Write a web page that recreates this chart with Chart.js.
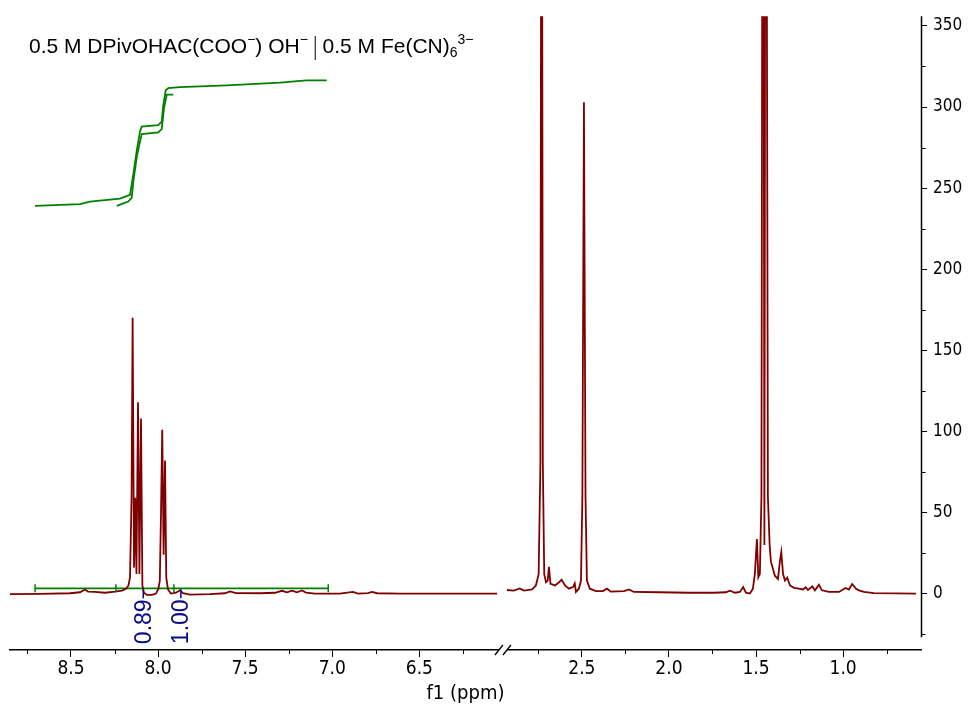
<!DOCTYPE html>
<html><head><meta charset="utf-8">
<script src="https://cdn.jsdelivr.net/npm/chart.js@4.4.0/dist/chart.umd.min.js"></script>
<style>html,body{margin:0;padding:0;background:#fff;overflow:hidden}</style>
</head><body>
<canvas id="c" width="976" height="706" style="display:block;width:976px;height:706px"></canvas>
<script>
// ---------- data (ppm, intensity) ----------
const leftSpectrum = [
 [8.85,-0.3],[8.678,-0.2],[8.506,0.2],[8.448,0.8],[8.420,2.5],[8.402,1.2],[8.362,1.0],[8.305,0.5],
 [8.247,1.2],[8.207,1.8],[8.184,3],[8.170,5],[8.161,10],[8.152,60],[8.146,170],[8.138,16],
 [8.131,59],[8.124,12],[8.115,118],[8.107,12],[8.098,108],[8.090,5],[8.081,0.5],[8.064,-0.8],
 [8.035,-0.8],[8.012,0],[7.998,3],[7.990,8],[7.983,50],[7.976,101],[7.968,24],[7.960,82],
 [7.953,10],[7.943,2.5],[7.926,0],[7.897,0.5],[7.874,2],[7.857,0.2],[7.817,-0.6],[7.702,-0.4],
 [7.616,0.2],[7.587,1.3],[7.553,0.3],[7.415,0.2],[7.329,0.5],[7.289,1.7],[7.260,0.8],[7.231,1.8],
 [7.203,0.8],[7.174,1.9],[7.151,0.6],[7.099,0],[6.956,0],[6.881,1.0],[6.852,0],[6.795,0.3],
 [6.772,1.0],[6.743,0.2],[6.611,0],[6.324,0],[6.054,0]
];
const rightSpectrum = [
 [2.930,2.2],[2.890,1.8],[2.857,3.2],[2.832,1.8],[2.786,2.5],[2.764,5],[2.748,12],[2.738,80],
 [2.731,650],[2.724,80],[2.716,12],[2.706,7],[2.696,8],[2.689,16.5],[2.680,6],[2.654,5],
 [2.631,7],[2.616,8.5],[2.597,5],[2.574,3],[2.551,4],[2.541,6.3],[2.534,1],[2.517,3],
 [2.505,8],[2.497,60],[2.488,303],[2.479,60],[2.471,8],[2.454,3],[2.419,1.5],[2.379,1.5],
 [2.356,3],[2.333,1.2],[2.258,1.5],[2.230,2.5],[2.201,1],[2.057,0.8],[1.885,0.5],[1.742,0.5],
 [1.673,0.8],[1.650,1.8],[1.621,0.5],[1.593,1],[1.574,4],[1.558,0.5],[1.535,0],[1.518,3],
 [1.507,12],[1.495,33.6],[1.487,10],[1.478,12],[1.469,60],[1.460,700],[1.452,30],[1.444,700],
 [1.432,60],[1.422,30],[1.415,20],[1.392,11],[1.374,9],[1.363,20],[1.355,25.6],[1.345,12],[1.334,8],
 [1.321,9.8],[1.305,5],[1.282,3.5],[1.254,3],[1.231,2.5],[1.215,3.9],[1.202,2.2],[1.177,4.4],
 [1.162,2],[1.139,5.5],[1.122,2],[1.082,1],[1.024,1],[0.986,3.4],[0.967,2.5],[0.948,5.9],
 [0.926,3],[0.909,2],[0.881,1],[0.823,0.3],[0.582,0]
];
const integralA = [
 [8.706,239.0],[8.448,240.1],[8.391,241.7],[8.219,243.5],[8.161,245.8],[8.142,258.4],[8.123,272.6],
 [8.104,284.8],[8.094,287.9],[7.999,288.9],[7.979,291.0],[7.970,301.2],[7.956,310.3],[7.941,311.7],
 [7.874,312.3],[7.606,313.4],[7.300,315.0],[7.147,316.4],[7.032,316.4]
];
const integralB = [
 [8.237,239.0],[8.171,241.7],[8.151,244.1],[8.141,255.0],[8.121,270.0],[8.094,283.3],[7.999,284.3],
 [7.979,286.4],[7.966,299.3],[7.950,307.6],[7.913,307.6]
];
const bracketEdges = [8.706, 8.242, 7.909, 7.023];
const bracketLevel = 3.2;
const integralLabels = ['0.89', '1.00'];
const integralLabelPpm = [8.085, 7.869];
const xMajorLeft = [8.5, 8.0, 7.5, 7.0, 6.5];
const xMajorRight = [2.5, 2.0, 1.5, 1.0];
const xMinorLeft = [8.75, 8.25, 7.75, 7.25, 6.75, 6.25];
const xMinorRight = [2.75, 2.25, 1.75, 1.25, 0.75];
const yMajor = [0, 50, 100, 150, 200, 250, 300, 350];
const yMinor = [-25, 25, 75, 125, 175, 225, 275, 325];

// ---------- broken axis mapping ----------
const OFFSET = 3.067;          // shift applied to the high-field part
const BREAK_V = 6.02;          // virtual position of the break
const X_MAX = 8.85, X_MIN = 3.62;
const toV = (ppm) => ppm > 4 ? ppm : ppm + OFFSET;
const toPts = (arr, shift) => arr.map(p => ({x: p[0] + shift, y: p[1]}));

const RED = '#800000', GREEN = '#008000', NAVY = '#0a0a8a';

const extras = {
  id: 'extras',
  afterDraw(chart) {
    const {ctx, chartArea, scales: {x, y}} = chart;
    ctx.save();
    ctx.strokeStyle = '#000'; ctx.lineWidth = 1;
    // x minor ticks
    const b = chartArea.bottom;
    [...xMinorLeft, ...xMinorRight].forEach(p => {
      const px = Math.round(x.getPixelForValue(toV(p))) + 0.5;
      ctx.beginPath(); ctx.moveTo(px, b); ctx.lineTo(px, b + 4); ctx.stroke();
    });
    // y axis line and minor ticks
    const ax = Math.round(chartArea.right) + 0.5;
    ctx.lineWidth = 1.5;
    ctx.beginPath(); ctx.moveTo(ax, y.getPixelForValue(-27)); ctx.lineTo(ax, chartArea.top); ctx.stroke();
    ctx.lineWidth = 1;
    yMinor.forEach(v => {
      const py = Math.round(y.getPixelForValue(v)) + 0.5;
      ctx.beginPath(); ctx.moveTo(ax, py); ctx.lineTo(ax + 4, py); ctx.stroke();
    });
    // break marks
    const bx = x.getPixelForValue(BREAK_V);
    ctx.fillStyle = '#fff';
    ctx.fillRect(bx - 4, b - 3, 8, 6);
    ctx.lineWidth = 1.3;
    [-4, 4].forEach(d => {
      ctx.beginPath(); ctx.moveTo(bx + d - 4, b + 5); ctx.lineTo(bx + d + 4, b - 5); ctx.stroke();
    });
    // integration bracket ticks
    ctx.strokeStyle = GREEN; ctx.lineWidth = 1.5;
    const by = y.getPixelForValue(bracketLevel);
    bracketEdges.forEach(p => {
      const px = x.getPixelForValue(toV(p));
      ctx.beginPath(); ctx.moveTo(px, by - 4); ctx.lineTo(px, by + 4); ctx.stroke();
    });
    // integral labels
    ctx.strokeStyle = NAVY; ctx.fillStyle = NAVY; ctx.lineWidth = 1.5;
    ctx.font = '23px "Liberation Sans", Arial, sans-serif';
    integralLabels.forEach((t, i) => {
      const px = x.getPixelForValue(toV(integralLabelPpm[i]));
      ctx.beginPath(); ctx.moveTo(px, by + 1); ctx.lineTo(px, by + 10); ctx.stroke();
      ctx.save();
      ctx.translate(px, by + 11);
      ctx.rotate(-Math.PI / 2);
      ctx.textAlign = 'right'; ctx.textBaseline = 'middle';
      ctx.fillText(t, 0, 1);
      ctx.restore();
    });
    // title with sub/superscripts
    ctx.fillStyle = '#000';
    let cx = 29; const base = 53;
    const big = '21px "Liberation Sans", Arial, sans-serif';
    const small = '14px "Liberation Sans", Arial, sans-serif';
    const runs = [
      ['0.5 M DPivOHAC(COO', 'n'], ['\u2212', 'sup'], [') OH', 'n'], ['\u2212', 'sup'], [' ', 'n'],
      ['|', 'bar'], [' 0.5 M Fe(CN)', 'n'], ['6', 'sub'], ['3\u2212', 'sup']
    ];
    ctx.textAlign = 'left'; ctx.textBaseline = 'alphabetic';
    runs.forEach(([t, k]) => {
      if (k === 'bar') {
        ctx.strokeStyle = '#000'; ctx.lineWidth = 1;
        ctx.beginPath(); ctx.moveTo(cx + 1.5, 36); ctx.lineTo(cx + 1.5, 60); ctx.stroke();
        cx += 3; return;
      }
      if (k === 'n') { ctx.font = big; ctx.fillText(t, cx, base); }
      else if (k === 'sup') { ctx.font = small; ctx.fillText(t, cx, base - 9); }
      else if (k === 'sub') { ctx.font = small; ctx.fillText(t, cx, base + 4); }
      cx += ctx.measureText(t).width;
    });
    ctx.restore();
  }
};

const lineDs = (data, color) => ({data, borderColor: color, borderWidth: 1.8, pointRadius: 0, tension: 0, fill: false});

new Chart(document.getElementById('c').getContext('2d'), {
  type: 'line',
  data: {
    datasets: [
      lineDs(toPts(leftSpectrum, 0), RED),
      lineDs(toPts(rightSpectrum, OFFSET), RED),
      lineDs(toPts(integralA, 0), GREEN),
      lineDs(toPts(integralB, 0), GREEN),
      lineDs([{x: bracketEdges[0], y: bracketLevel}, {x: bracketEdges[3], y: bracketLevel}], GREEN)
    ]
  },
  options: {
    responsive: false, animation: false, parsing: true,
    layout: {padding: {left: 10, top: 11, right: 0, bottom: 0}},
    plugins: {legend: {display: false}, tooltip: {enabled: false}, title: {display: false}},
    scales: {
      x: {
        type: 'linear', reverse: true, min: X_MIN, max: X_MAX,
        afterBuildTicks: s => { s.ticks = [...xMajorLeft, ...xMajorRight].map(p => ({value: toV(p)})); },
        afterFit: s => { s.height = 56; },
        grid: {display: true, drawOnChartArea: false, drawTicks: true, tickLength: 7, color: '#000', lineWidth: 1},
        border: {display: true, color: '#000', width: 1.5},
        ticks: {
          autoSkip: false, maxRotation: 0, padding: 1, color: '#000',
          font: {family: '"DejaVu Sans Condensed", "DejaVu Sans", sans-serif', size: 19},
          callback: v => (v > BREAK_V ? v : v - OFFSET).toFixed(1)
        },
        title: {display: true, text: 'f1 (ppm)', color: '#000', padding: {top: -5, bottom: 0},
          font: {family: '"DejaVu Sans Condensed", "DejaVu Sans", sans-serif', size: 20}}
      },
      y: {
        type: 'linear', position: 'right', min: -34.8, max: 356,
        afterBuildTicks: s => { s.ticks = yMajor.map(v => ({value: v})); },
        afterFit: s => { s.width = 55; },
        grid: {display: true, drawOnChartArea: false, drawTicks: true, tickLength: 6, color: '#000', lineWidth: 1},
        border: {display: false},
        ticks: {padding: 6, color: '#000', font: {family: '"DejaVu Sans Condensed", "DejaVu Sans", sans-serif', size: 17}}
      }
    }
  },
  plugins: [extras]
});
</script>
</body></html>
